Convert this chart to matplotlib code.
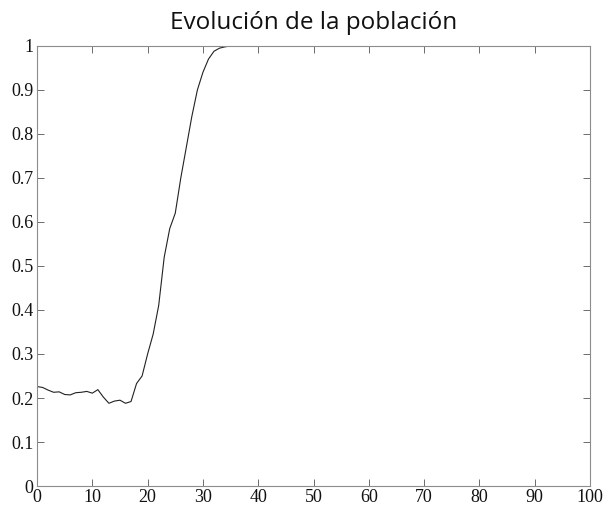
import matplotlib
matplotlib.use('Agg')
from matplotlib import pyplot as plt
from matplotlib.ticker import FormatStrFormatter, MultipleLocator

# generation index and fraction of the population
generations = [0, 1, 2, 3, 4, 5, 6, 7, 8, 9, 10, 11, 12, 13, 14, 15, 16, 17,
               18, 19, 20, 21, 22, 23, 24, 25, 26, 27, 28, 29, 30, 31, 32, 33,
               34, 35, 100]
population = [0.226, 0.224, 0.218, 0.213, 0.214, 0.208, 0.207, 0.212, 0.213,
              0.215, 0.211, 0.219, 0.202, 0.188, 0.193, 0.195, 0.188, 0.192,
              0.233, 0.250, 0.300, 0.345, 0.410, 0.520, 0.585, 0.620, 0.700,
              0.770, 0.840, 0.900, 0.940, 0.970, 0.988, 0.995, 0.998, 1.000,
              1.000]

title = 'Evolución de la población'

plt.rcParams['font.family'] = ['Liberation Serif', 'DejaVu Serif']


def main():
    fig = plt.figure(figsize=(6.04, 5.05), dpi=100)
    ax = fig.add_axes([0.0613, 0.0376, 0.9155, 0.8714])

    ax.plot(generations, population, color='#222222', linewidth=0.8)

    ax.set_xlim(0, 100)
    ax.set_ylim(0, 1)
    ax.xaxis.set_major_locator(MultipleLocator(10))
    ax.yaxis.set_major_locator(MultipleLocator(0.1))
    ax.yaxis.set_major_formatter(FormatStrFormatter('%g'))

    for spine in ax.spines.values():
        spine.set_color('#8c8c8c')
        spine.set_linewidth(0.8)
    ax.tick_params(direction='in', top=True, right=True, length=5,
                   width=0.7, color='#6c6c6c', pad=2.5,
                   labelsize=13, labelcolor='#111111')

    fig.text(0.52, 0.955, title, ha='center', va='center',
             fontsize=17.5, family='Open Sans', color='#111111')

    fig.savefig('out.png', dpi=100)


if __name__ == "__main__":
    main()
